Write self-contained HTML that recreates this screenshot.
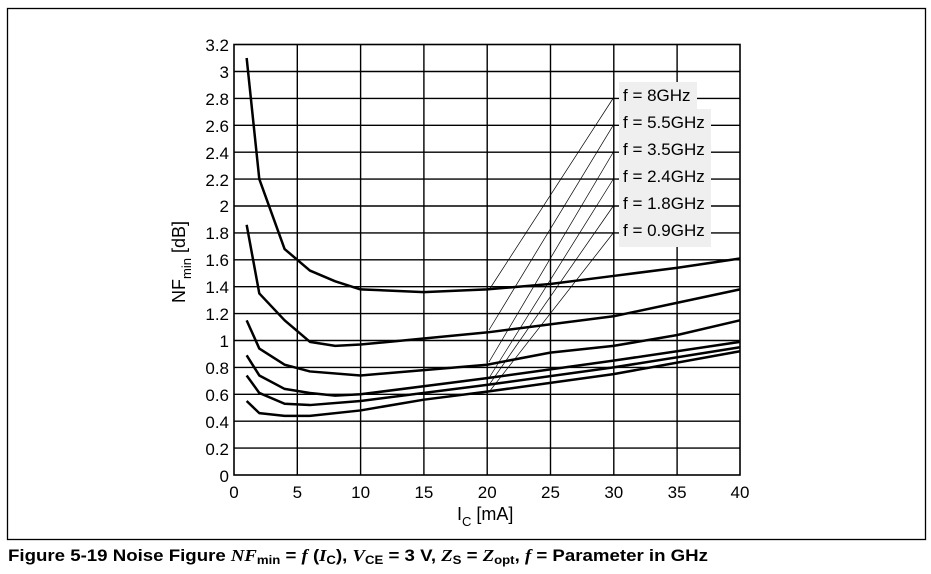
<!DOCTYPE html>
<html><head><style>
body{margin:0;background:#fff;width:931px;height:569px;overflow:hidden;font-family:"Liberation Sans",Arial,sans-serif}
</style></head><body>
<svg width="931" height="569" xmlns="http://www.w3.org/2000/svg" font-family="Liberation Sans, Arial, sans-serif">
<rect x="7.5" y="8.5" width="918" height="531" fill="none" stroke="#000" stroke-width="1.3"/>
<g stroke="#000" stroke-width="1.4">
<line x1="297.3" y1="44.5" x2="297.3" y2="475"/><line x1="360.6" y1="44.5" x2="360.6" y2="475"/>
<line x1="423.9" y1="44.5" x2="423.9" y2="475"/><line x1="487.2" y1="44.5" x2="487.2" y2="475"/>
<line x1="550.5" y1="44.5" x2="550.5" y2="475"/><line x1="613.8" y1="44.5" x2="613.8" y2="475"/>
<line x1="677.1" y1="44.5" x2="677.1" y2="475"/>
</g>
<g stroke="#000" stroke-width="1.4">
<line x1="234" x2="740" y1="71.5" y2="71.5"/><line x1="234" x2="740" y1="98.4" y2="98.4"/>
<line x1="234" x2="740" y1="125.3" y2="125.3"/><line x1="234" x2="740" y1="152.2" y2="152.2"/>
<line x1="234" x2="740" y1="179.1" y2="179.1"/><line x1="234" x2="740" y1="206" y2="206"/>
<line x1="234" x2="740" y1="232.9" y2="232.9"/><line x1="234" x2="740" y1="259.8" y2="259.8"/>
<line x1="234" x2="740" y1="286.7" y2="286.7"/><line x1="234" x2="740" y1="313.6" y2="313.6"/>
<line x1="234" x2="740" y1="340.5" y2="340.5"/><line x1="234" x2="740" y1="367.4" y2="367.4"/>
<line x1="234" x2="740" y1="394.3" y2="394.3"/><line x1="234" x2="740" y1="421.2" y2="421.2"/>
<line x1="234" x2="740" y1="448.1" y2="448.1"/>
</g>
<rect x="234" y="44.5" width="506" height="430.5" fill="none" stroke="#000" stroke-width="1.6"/>
<path d="M619 82 H697 V109 H711 V247 H619 Z" fill="#efefef"/>
<g font-size="17" fill="#000">
<text x="623" y="101">f = 8GHz</text>
<text x="623" y="128">f = 5.5GHz</text>
<text x="623" y="155">f = 3.5GHz</text>
<text x="623" y="182">f = 2.4GHz</text>
<text x="623" y="209">f = 1.8GHz</text>
<text x="623" y="236">f = 0.9GHz</text>
</g>
<g stroke="#000" stroke-width="0.7">
<line x1="614" y1="97" x2="489" y2="290"/>
<line x1="614" y1="124" x2="489" y2="330"/>
<line x1="614" y1="151" x2="489" y2="362"/>
<line x1="614" y1="178" x2="489" y2="378"/>
<line x1="614" y1="205" x2="489" y2="385"/>
<line x1="614" y1="232" x2="489" y2="392"/>
</g>
<g transform="translate(234,475) scale(12.65,-134.5)" fill="none" stroke="#000" stroke-width="2.5" stroke-linejoin="round">
<polyline vector-effect="non-scaling-stroke" points="1,3.1 2,2.2 4,1.68 6,1.52 8,1.44 10,1.38 15,1.36 20,1.38 25,1.42 30,1.48 35,1.54 40,1.61"/>
<polyline vector-effect="non-scaling-stroke" points="1,1.86 2,1.35 4,1.15 6,0.99 8,0.96 10,0.97 20,1.06 30,1.18 35,1.28 40,1.38"/>
<polyline vector-effect="non-scaling-stroke" points="1,1.15 2,0.94 4,0.82 6,0.77 10,0.74 15,0.78 20,0.82 25,0.91 30,0.96 35,1.04 40,1.15"/>
<polyline vector-effect="non-scaling-stroke" points="1,0.89 2,0.74 4,0.64 6,0.61 8,0.59 10,0.6 20,0.72 30,0.85 40,0.99"/>
<polyline vector-effect="non-scaling-stroke" points="1,0.74 2,0.61 4,0.53 6,0.52 10,0.55 20,0.67 30,0.8 40,0.95"/>
<polyline vector-effect="non-scaling-stroke" points="1,0.55 2,0.46 4,0.44 6,0.44 10,0.48 15,0.56 20,0.62 30,0.75 40,0.92"/>
</g>
<g font-size="17" text-anchor="end" fill="#000">
<text x="229" y="51">3.2</text><text x="229" y="78">3</text><text x="229" y="105">2.8</text>
<text x="229" y="132">2.6</text><text x="229" y="159">2.4</text><text x="229" y="186">2.2</text>
<text x="229" y="212">2</text><text x="229" y="239">1.8</text><text x="229" y="266">1.6</text>
<text x="229" y="293">1.4</text><text x="229" y="320">1.2</text><text x="229" y="347">1</text>
<text x="229" y="374">0.8</text><text x="229" y="401">0.6</text><text x="229" y="428">0.4</text>
<text x="229" y="455">0.2</text><text x="229" y="482">0</text>
</g>
<g font-size="17" text-anchor="middle" fill="#000">
<text x="234" y="498">0</text><text x="297.3" y="498">5</text><text x="360.6" y="498">10</text>
<text x="423.9" y="498">15</text><text x="487.2" y="498">20</text><text x="550.5" y="498">25</text>
<text x="613.8" y="498">30</text><text x="677.1" y="498">35</text><text x="740" y="498">40</text>
</g>
<text x="457" y="520" font-size="18">I<tspan font-size="13" dy="6">C</tspan><tspan dy="-6"> [mA]</tspan></text>
<text transform="translate(185,303) rotate(-90)" font-size="18">NF<tspan font-size="13" dy="6">min</tspan><tspan dy="-6"> [dB]</tspan></text>
<text x="8" y="561" font-size="17" font-weight="bold" textLength="700" lengthAdjust="spacingAndGlyphs">Figure 5-19 Noise Figure <tspan font-family="Liberation Serif, serif" font-style="italic">NF</tspan><tspan font-size="12" dy="3">min</tspan><tspan dy="-3"> = </tspan><tspan font-family="Liberation Serif, serif" font-style="italic">f</tspan> (<tspan font-family="Liberation Serif, serif" font-style="italic">I</tspan><tspan font-size="12" dy="3">C</tspan><tspan dy="-3">), </tspan><tspan font-family="Liberation Serif, serif" font-style="italic">V</tspan><tspan font-size="12" dy="3">CE</tspan><tspan dy="-3"> = 3 V, </tspan><tspan font-family="Liberation Serif, serif" font-style="italic">Z</tspan><tspan font-size="12" dy="3">S</tspan><tspan dy="-3"> = </tspan><tspan font-family="Liberation Serif, serif" font-style="italic">Z</tspan><tspan font-size="12" dy="3">opt</tspan><tspan dy="-3">, </tspan><tspan font-family="Liberation Serif, serif" font-style="italic">f</tspan> = Parameter in GHz</text>
</svg>
</body></html>
